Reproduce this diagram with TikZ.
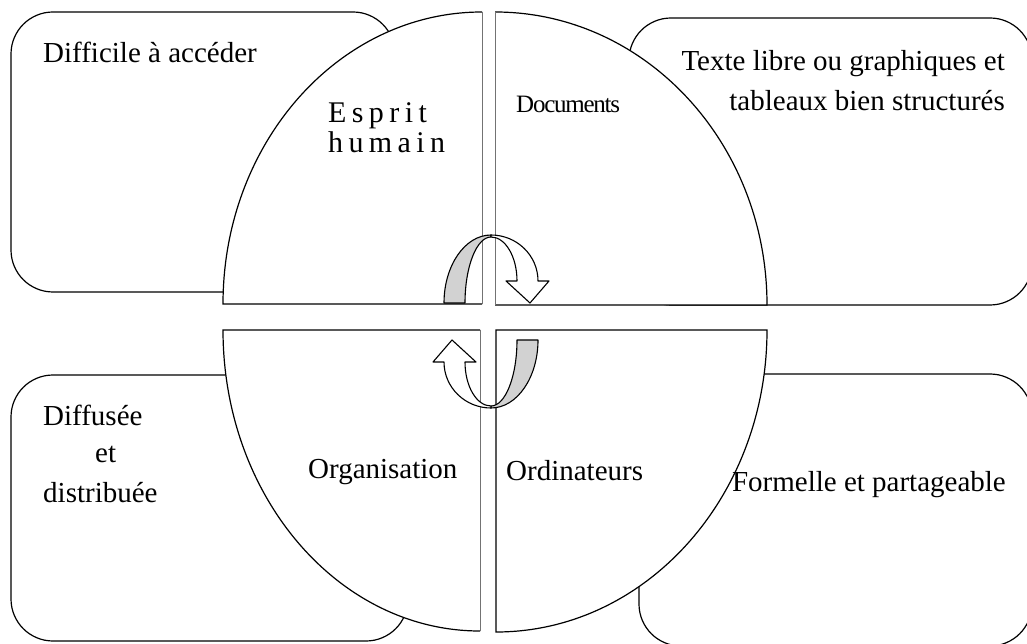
\documentclass[tikz,border=0pt]{standalone}
\usepackage{fontspec}
\setmainfont{Liberation Serif}
\definecolor{bandgray}{RGB}{210,210,210}
\begin{document}
\begin{tikzpicture}[x=1pt,y=1pt,
  outline/.style={line width=1.2pt, draw=black},
  softedge/.style={line width=1pt, draw=black!55},
  infobox/.style={outline, fill=white, rounded corners=42pt},
  band/.style={line width=1.1pt, draw=black, line join=round},
  txt/.style={inner sep=0pt, font=\fontsize{29}{35}\selectfont},
  wide/.style={inner sep=0pt, font=\fontsize{30}{35}\selectfont\addfontfeature{LetterSpace=18}},
  tight/.style={inner sep=0pt, font=\fontsize{25}{30}\selectfont\addfontfeature{LetterSpace=-5}},
]
\clip (0,0) rectangle (1027,643);
\fill[white] (0,0) rectangle (1027,643);

% the four rounded boxes behind the circle
\draw[infobox] (11,351) rectangle (395,631);
\draw[infobox] (629,338) rectangle (1032,625);
\draw[infobox] (11,2) rectangle (408,268);
\draw[infobox] (639,-3) rectangle (1032,269);

% top-left quarter
\fill[white] (482,339) -- (223,339) arc[start angle=180,end angle=90,x radius=259pt,y radius=292pt] -- cycle;
\draw[outline] (482,339) -- (223,339) arc[start angle=180,end angle=90,x radius=259pt,y radius=292pt];
\draw[softedge] (482,631) -- (482,339);

% top-right quarter
\fill[white] (495,338) -- (495,631) arc[start angle=90,end angle=0,x radius=272pt,y radius=293pt] -- cycle;
\draw[outline] (495,631) arc[start angle=90,end angle=0,x radius=272pt,y radius=293pt] -- (495,338);
\draw[softedge] (495,338) -- (495,631);

% bottom-left quarter
\fill[white] (480,313) -- (223,313) arc[start angle=180,end angle=270,x radius=257pt,y radius=301pt] -- cycle;
\draw[outline] (480,313) -- (223,313) arc[start angle=180,end angle=270,x radius=257pt,y radius=301pt];
\draw[softedge] (480,12) -- (480,313);

% bottom-right quarter
\filldraw[outline, fill=white] (496,313) -- (767,313) arc[start angle=0,end angle=-90,x radius=271pt,y radius=302pt] -- cycle;

% turning arrow, upper one
\filldraw[band, fill=bandgray] (444,340) arc[start angle=180,end angle=90,x radius=47pt,y radius=68pt]
  -- (491,406) arc[start angle=90,end angle=180,x radius=26pt,y radius=66pt] -- cycle;
\filldraw[band, fill=white] (491,408) arc[start angle=90,end angle=0,x radius=47pt,y radius=46pt]
  -- (549,362) -- (530,340) -- (506,362) -- (517,362)
  arc[start angle=0,end angle=90,x radius=26pt,y radius=44pt] -- cycle;

% turning arrow, lower one (half turn of the upper one)
\begin{scope}[rotate around={180:(491,321.5)}]
\filldraw[band, fill=bandgray] (444,340) arc[start angle=180,end angle=90,x radius=47pt,y radius=68pt]
  -- (491,406) arc[start angle=90,end angle=180,x radius=26pt,y radius=66pt] -- cycle;
\filldraw[band, fill=white] (491,408) arc[start angle=90,end angle=0,x radius=47pt,y radius=46pt]
  -- (549,362) -- (530,340) -- (506,362) -- (517,362)
  arc[start angle=0,end angle=90,x radius=26pt,y radius=44pt] -- cycle;
\end{scope}

% texts
\node[txt, anchor=base west] (difficile) at (43,580) {Difficile à accéder};
\node[wide, anchor=base west] (esprit) at (328,520) {Esprit};
\node[wide, anchor=base west] (humain) at (328,490) {humain};
\node[tight, anchor=base west] (documents) at (516,530) {Documents};
\node[txt, anchor=base east] (texteA) at (1005,572) {Texte libre ou graphiques et};
\node[txt, anchor=base east] (texteB) at (1005,532) {tableaux bien structurés};
\node[txt, anchor=base west] (diffusee) at (43,218) {Diffusée};
\node[txt, anchor=base west] (et) at (95,181) {et};
\node[txt, anchor=base west] (distribuee) at (43,141) {distribuée};
\node[txt, anchor=base west] (organisation) at (308,165) {Organisation};
\node[txt, anchor=base west] (ordinateurs) at (506,163) {Ordinateurs};
\node[txt, anchor=base east] (formelle) at (1006,152) {Formelle et partageable};
\end{tikzpicture}
\end{document}
